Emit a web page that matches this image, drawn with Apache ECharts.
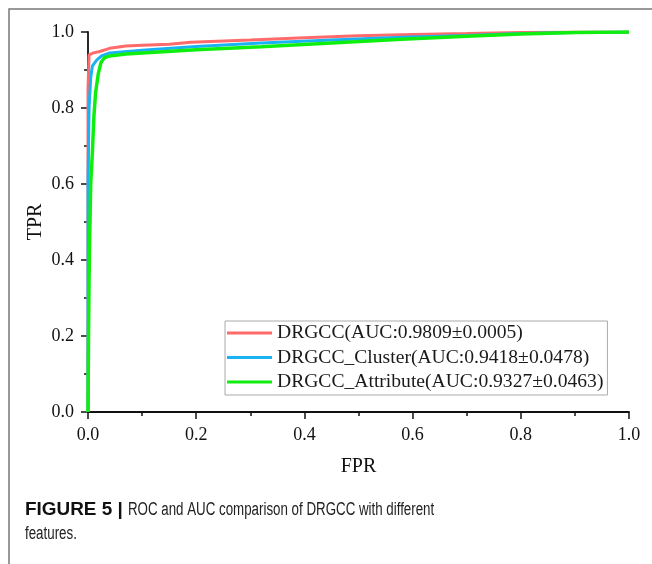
<!DOCTYPE html>
<html>
<head>
<meta charset="utf-8">
<style>
html,body{margin:0;padding:0;background:#fff;}
#chart{width:652px;height:564px;}
</style>
<script src="https://cdn.jsdelivr.net/npm/echarts@6/dist/echarts.min.js"></script>
</head>
<body>
<div id="chart"></div>
<script>
// ---- data ----
const seriesNames = [
  'DRGCC(AUC:0.9809\u00b10.0005)',
  'DRGCC_Cluster(AUC:0.9418\u00b10.0478)',
  'DRGCC_Attribute(AUC:0.9327\u00b10.0463)'
];
const drgccFPR = [0, 0, 0.002, 0.01, 0.02, 0.04, 0.07, 0.1, 0.15, 0.19, 0.3, 0.4, 0.5, 0.58, 0.7, 0.8, 0.9, 1.0];
const drgccTPR = [0, 0.85, 0.94, 0.945, 0.948, 0.957, 0.963, 0.965, 0.968, 0.973, 0.979, 0.985, 0.99, 0.993, 0.996, 0.999, 1.0, 1.0];
const clusterFPR = [0, 0, 0.002, 0.005, 0.008, 0.016, 0.025, 0.04, 0.1, 0.2, 0.32, 0.45, 0.58, 0.7, 0.8, 0.9, 1.0];
const clusterTPR = [0, 0.6, 0.8, 0.88, 0.91, 0.926, 0.937, 0.945, 0.952, 0.962, 0.971, 0.979, 0.986, 0.991, 0.996, 0.999, 1.0];
const attributeFPR = [0, 0.001, 0.002, 0.003, 0.005, 0.008, 0.011, 0.014, 0.019, 0.024, 0.03, 0.04, 0.07, 0.1, 0.2, 0.32, 0.45, 0.58, 0.7, 0.8, 0.9, 1.0];
const attributeTPR = [0, 0.2, 0.35, 0.45, 0.6, 0.68, 0.78, 0.84, 0.89, 0.92, 0.932, 0.937, 0.942, 0.945, 0.953, 0.961, 0.971, 0.981, 0.989, 0.995, 0.999, 1.0];
const xTicks = [0, 0.2, 0.4, 0.6, 0.8, 1.0];
const yTicks = [0, 0.2, 0.4, 0.6, 0.8, 1.0];
const xTitle = 'FPR';
const yTitle = 'TPR';
const captionBold = 'FIGURE 5 |';
const captionLine1 = 'ROC and AUC comparison of DRGCC with different';
const captionLine2 = 'features.';

const colors = ['#ff6b6b', '#19b2f2', '#10ee10'];
const widths = [3, 3, 3.5];

function pairs(xs, ys) { return xs.map((x, i) => [x, ys[i]]); }
const allData = [pairs(drgccFPR, drgccTPR), pairs(clusterFPR, clusterTPR), pairs(attributeFPR, attributeTPR)];

const chart = echarts.init(document.getElementById('chart'), null, {renderer: 'canvas'});
const serif = 'Liberation Serif, Times New Roman, serif';
const axisCommon = {
  type: 'value', min: 0, max: 1, interval: 0.2,
  nameLocation: 'middle',
  nameMoveOverlap: false,
  nameTextStyle: {fontFamily: serif, fontSize: 20, color: '#111'},
  axisLine: {show: true, lineStyle: {color: '#111', width: 1.8}},
  axisTick: {show: true, length: 7, lineStyle: {color: '#111', width: 1.5}},
  minorTick: {show: true, splitNumber: 2, length: 4, lineStyle: {color: '#111', width: 1.5}},
  splitLine: {show: false},
  minorSplitLine: {show: false},
  axisLabel: {fontFamily: serif, fontSize: 18, color: '#111', margin: 14,
    formatter: v => Number(v).toFixed(1)}
};

chart.setOption({
  animation: false,
  backgroundColor: '#fff',
  color: colors,
  grid: {left: 88, right: 23, top: 32, bottom: 152, containLabel: false},
  xAxis: Object.assign({}, axisCommon, {name: xTitle, nameGap: 45}),
  yAxis: Object.assign({}, axisCommon, {name: yTitle, nameGap: 42}),
  legend: {
    orient: 'vertical', left: 225, top: 321,
    icon: 'rect', itemWidth: 45, itemHeight: 3, itemGap: 4.5,
    padding: [2, 4, 3, 2],
    borderColor: '#aaa', borderWidth: 1, backgroundColor: '#fff',
    textStyle: {fontFamily: serif, fontSize: 19.6, color: '#1a1a1a', lineHeight: 20},
    data: seriesNames
  },
  series: seriesNames.map((n, i) => ({
    name: n, type: 'line', data: allData[i], showSymbol: false, symbol: 'none',
    lineStyle: {color: colors[i], width: widths[i]}, itemStyle: {color: colors[i]},
    z: 2 + i
  })),
  graphic: [
    {type: 'rect', shape: {x: 9, y: 9, width: 800, height: 800}, silent: true,
     style: {fill: 'none', stroke: '#777', lineWidth: 1.5}},
    {type: 'text', x: 25, y: 510, scaleX: 1.05,
     style: {text: captionBold, x: 0, y: 0, font: 'bold 18px "Liberation Sans", Arial, sans-serif', fill: '#111', textVerticalAlign: 'middle'}},
    {type: 'text', x: 128, y: 510, scaleX: 0.74,
     style: {text: captionLine1, x: 0, y: 0, font: '18px "Liberation Sans", Arial, sans-serif', fill: '#222', textVerticalAlign: 'middle'}},
    {type: 'text', x: 25, y: 534, scaleX: 0.74,
     style: {text: captionLine2, x: 0, y: 0, font: '18px "Liberation Sans", Arial, sans-serif', fill: '#222', textVerticalAlign: 'middle'}}
  ]
});
</script>
</body>
</html>
